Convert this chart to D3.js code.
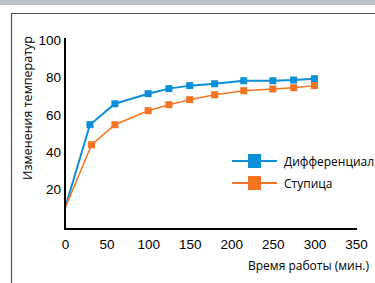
<!DOCTYPE html>
<html>
<head>
  <script src="https://d3js.org/d3.v7.min.js"></script>
  <style>
    body { margin: 0; background: #fff; }
    .tick text { font: 13.5px "Liberation Sans", Arial, sans-serif; fill: #000; }
    .label { font-family: "Open Sans", sans-serif; fill: #000; }
  </style>
</head>
<body>
  <svg class="chart"></svg>
  <script>
    var xTicks = [0, 50, 100, 150, 200, 250, 300, 350];
    var yTicks = [20, 40, 60, 80, 100];
    var diffX = [0, 30, 60, 100, 125, 150, 180, 215, 250, 275, 300];
    var diffY = [10, 54.7, 65.9, 71.3, 74, 75.6, 76.6, 78.2, 78.2, 78.6, 79.3];
    var hubX = [0, 32, 60, 100, 125, 150, 180, 215, 250, 275, 300];
    var hubY = [10, 44, 54.7, 62.2, 65.4, 68.1, 70.7, 72.9, 73.8, 74.5, 75.6];
    var seriesNames = ['Дифференциал', 'Ступица'];
    var colors = ['#0b8fd8', '#f47422'];

    var W = 375, H = 283;
    var svg = d3.select('.chart').attr('width', W).attr('height', H);

    // page frame
    svg.append('rect').attr('x', 0).attr('y', 0).attr('width', W).attr('height', 5).attr('fill', '#b9c0c7');
    svg.append('path').attr('d', 'M11.5,' + H + 'V13.5H' + W)
      .attr('fill', 'none').attr('stroke', '#555').attr('stroke-width', 1.2);

    var x = d3.scaleLinear().domain([0, 350]).range([65, 356]);
    var y = d3.scaleLinear().domain([0, 100]).range([227, 40]);

    var xAxis = d3.axisBottom(x).tickValues(xTicks).tickSize(0).tickPadding(10);
    var yAxis = d3.axisLeft(y).tickValues(yTicks).tickSize(0).tickPadding(4);

    var series = [
      { name: seriesNames[0], xs: diffX, ys: diffY, color: colors[0], w: 2 },
      { name: seriesNames[1], xs: hubX, ys: hubY, color: colors[1], w: 1.5 }
    ];

    var line = d3.line()
      .x(function (d) { return x(d[0]); })
      .y(function (d) { return y(d[1]); });

    series.forEach(function (s) {
      var pts = s.xs.map(function (v, i) { return [v, s.ys[i]]; });
      svg.append('path').datum(pts)
        .attr('d', line).attr('fill', 'none')
        .attr('stroke', s.color).attr('stroke-width', s.w);
      svg.selectAll(null).data(pts.slice(1)).enter().append('rect')
        .attr('x', function (d) { return x(d[0]) - 3.5; })
        .attr('y', function (d) { return y(d[1]) - 3.5; })
        .attr('width', 7).attr('height', 7)
        .attr('fill', s.color);
    });

    var gx = svg.append('g').attr('transform', 'translate(0,229)').call(xAxis);
    gx.select('.domain').attr('stroke', '#000').attr('stroke-width', 2).attr('d', 'M65,0H357');
    var gy = svg.append('g').attr('transform', 'translate(65,0)').call(yAxis);
    gy.select('.domain').attr('stroke', '#000').attr('stroke-width', 2).attr('d', 'M0,38V230');

    svg.append('text').attr('class', 'label')
      .attr('transform', 'translate(32,108) rotate(-90)')
      .attr('text-anchor', 'middle')
      .style('font-size', '12.5px')
      .text('Изменения температур');

    svg.append('text').attr('class', 'label')
      .attr('x', 248).attr('y', 270)
      .style('font-size', '12px')
      .text('Время работы (мин.)');

    // legend
    series.forEach(function (s, i) {
      var ly = 161 + i * 22;
      svg.append('line').attr('x1', 232).attr('x2', 277).attr('y1', ly).attr('y2', ly)
        .attr('stroke', s.color).attr('stroke-width', 2);
      svg.append('rect').attr('x', 248).attr('y', ly - 7).attr('width', 13).attr('height', 14)
        .attr('fill', s.color);
      svg.append('text').attr('class', 'label')
        .attr('x', 284).attr('y', ly + 4.5)
        .style('font-size', '12px')
        .text(s.name);
    });
  </script>
</body>
</html>
